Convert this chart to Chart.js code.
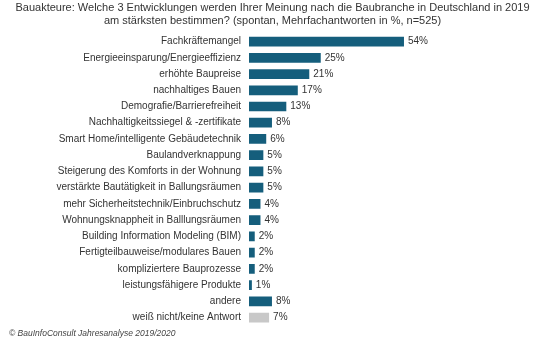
<!DOCTYPE html>
<html>
<head>
<meta charset="utf-8">
<script src="https://cdn.jsdelivr.net/npm/chart.js@4/dist/chart.umd.min.js"></script>
<style>
  html, body { margin: 0; padding: 0; background: #fff; }
  #wrap { width: 542px; height: 340px; }
</style>
</head>
<body>
<div id="wrap"><canvas id="umfrageChart"></canvas></div>
<script>
// Daten
const kategorien = [
    'Fachkräftemangel',
    'Energieeinsparung/Energieeffizienz',
    'erhöhte Baupreise',
    'nachhaltiges Bauen',
    'Demografie/Barrierefreiheit',
    'Nachhaltigkeitssiegel & -zertifikate',
    'Smart Home/intelligente Gebäudetechnik',
    'Baulandverknappung',
    'Steigerung des Komforts in der Wohnung',
    'verstärkte Bautätigkeit in Ballungsräumen',
    'mehr Sicherheitstechnik/Einbruchschutz',
    'Wohnungsknappheit in Balllungsräumen',
    'Building Information Modeling (BIM)',
    'Fertigteilbauweise/modulares Bauen',
    'kompliziertere Bauprozesse',
    'leistungsfähigere Produkte',
    'andere',
    'weiß nicht/keine Antwort'
];
const werte = [54, 25, 21, 17, 13, 8, 6, 5, 5, 5, 4, 4, 2, 2, 2, 1, 8, 7];

const blau = '#155e7c';
const grau = '#c8c8c8';
const farben = kategorien.map((k, i) => i === kategorien.length - 1 ? grau : blau);

// Prozentwerte hinter die Balken schreiben
const wertLabels = {
    id: 'wertLabels',
    afterDatasetsDraw(chart) {
        const ctx = chart.ctx;
        const meta = chart.getDatasetMeta(0);
        ctx.save();
        ctx.font = '10px "Liberation Sans", Arial, sans-serif';
        ctx.fillStyle = '#333';
        ctx.textBaseline = 'middle';
        ctx.textAlign = 'left';
        meta.data.forEach((bar, i) => {
            ctx.fillText(werte[i] + '%', bar.x + 4, bar.y);
        });
        ctx.restore();
    }
};

const ctx = document.getElementById('umfrageChart').getContext('2d');

const umfrageChart = new Chart(ctx, {
    type: 'bar',
    data: {
        labels: kategorien,
        datasets: [{
            data: werte,
            backgroundColor: farben,
            barPercentage: 0.6,
            categoryPercentage: 1
        }]
    },
    plugins: [wertLabels],
    options: {
        indexAxis: 'y',
        responsive: true,
        maintainAspectRatio: false,
        animation: false,
        layout: {
            padding: { left: 9, right: 6, top: 0, bottom: 0 }
        },
        scales: {
            x: {
                display: false,
                min: 0,
                max: 100
            },
            y: {
                grid: { display: false, drawTicks: false },
                border: { display: false },
                ticks: {
                    color: '#333',
                    padding: 8,
                    autoSkip: false,
                    font: { size: 10, family: '"Liberation Sans", Arial, sans-serif' }
                },
                afterFit(scale) {
                    scale.width = 240;
                }
            }
        },
        plugins: {
            legend: { display: false },
            tooltip: { enabled: false },
            title: {
                display: true,
                text: [
                    'Bauakteure: Welche 3 Entwicklungen werden Ihrer Meinung nach die Baubranche in Deutschland in 2019',
                    'am stärksten bestimmen? (spontan, Mehrfachantworten in %, n=525)'
                ],
                color: '#333',
                font: { size: 11, weight: 'normal', family: '"Liberation Sans", Arial, sans-serif', lineHeight: 1.2 },
                padding: { top: 1, bottom: 6 }
            },
            subtitle: {
                display: true,
                position: 'bottom',
                align: 'start',
                text: '© BauInfoConsult Jahresanalyse 2019/2020',
                color: '#444',
                font: { size: 8.5, style: 'italic', family: '"Liberation Sans", Arial, sans-serif', lineHeight: 1.2 },
                padding: { top: 3, bottom: 1 }
            }
        }
    }
});
</script>
</body>
</html>
